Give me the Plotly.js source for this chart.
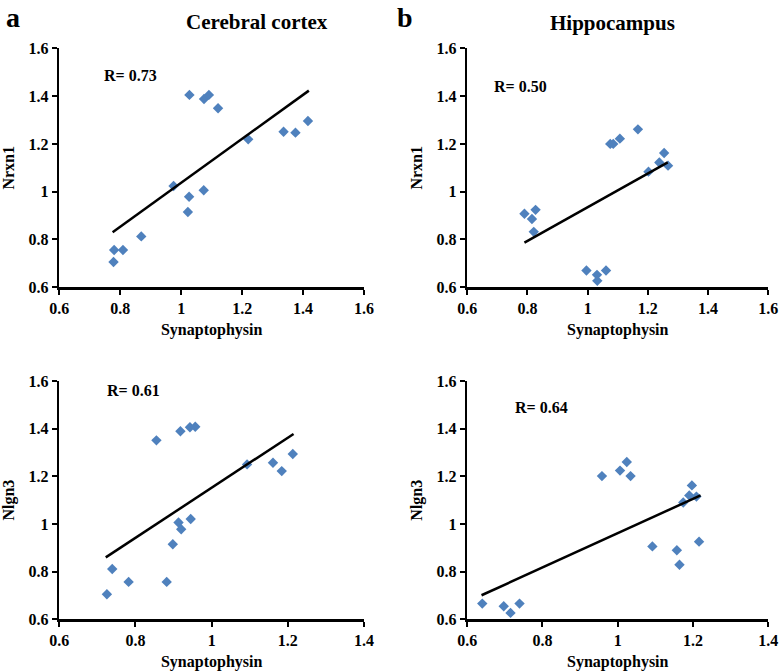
<!DOCTYPE html>
<html>
<head>
<meta charset="utf-8">
<script src="https://cdn.plot.ly/plotly-3.0.1.min.js"></script>
<style>html,body{margin:0;padding:0;background:#fff;}#chart{width:780px;height:672px;}</style>
</head>
<body>
<div id="chart"></div>
<script>
// Panel a: Cerebral cortex, Nrxn1 vs Synaptophysin
const cortexSynA = [1.027, 1.075, 1.091, 1.121, 1.220, 1.336, 1.375, 1.416, 0.975, 1.026, 1.074, 1.022, 0.869, 0.780, 0.809, 0.778];
const cortexNrxn1 = [1.405, 1.388, 1.405, 1.349, 1.219, 1.251, 1.247, 1.296, 1.024, 0.979, 1.006, 0.915, 0.813, 0.756, 0.756, 0.706];
const fitAx = [0.775, 1.419];
const fitAy = [0.830, 1.423];

// Panel b: Hippocampus, Nrxn1 vs Synaptophysin
const hippoSynB = [0.790, 0.815, 0.827, 0.821, 0.996, 1.031, 1.032, 1.061, 1.075, 1.085, 1.107, 1.167, 1.202, 1.238, 1.254, 1.267];
const hippoNrxn1 = [0.908, 0.886, 0.924, 0.832, 0.670, 0.652, 0.627, 0.670, 1.200, 1.200, 1.222, 1.261, 1.084, 1.122, 1.162, 1.109];
const fitBx = [0.790, 1.266];
const fitBy = [0.787, 1.123];

// Panel c: Cerebral cortex, Nlgn3 vs Synaptophysin
const cortexSynC = [0.855, 0.918, 0.943, 0.957, 1.093, 1.161, 1.184, 1.213, 0.913, 0.920, 0.945, 0.898, 0.739, 0.782, 0.882, 0.725];
const cortexNlgn3 = [1.351, 1.389, 1.406, 1.408, 1.250, 1.257, 1.222, 1.294, 1.006, 0.978, 1.021, 0.915, 0.811, 0.757, 0.757, 0.705];
const fitCx = [0.722, 1.215];
const fitCy = [0.860, 1.378];

// Panel d: Hippocampus, Nlgn3 vs Synaptophysin
const hippoSynD = [0.640, 0.697, 0.715, 0.739, 0.958, 1.006, 1.024, 1.034, 1.092, 1.157, 1.164, 1.216, 1.174, 1.190, 1.197, 1.209];
const hippoNlgn3 = [0.666, 0.655, 0.627, 0.666, 1.201, 1.224, 1.260, 1.201, 0.906, 0.890, 0.829, 0.926, 1.090, 1.120, 1.162, 1.115];
const fitDx = [0.638, 1.220];
const fitDy = [0.701, 1.120];

const rLabels = ["R= 0.73", "R= 0.50", "R= 0.61", "R= 0.64"];
const panelLetters = ["a", "b"];
const columnTitles = ["Cerebral cortex", "Hippocampus"];
const xLabel = "Synaptophysin";
const yLabels = ["Nrxn1", "Nlgn3"];
const yTicks = [0.6, 0.8, 1, 1.2, 1.4, 1.6];
const xTicksTop = [0.6, 0.8, 1, 1.2, 1.4, 1.6];
const xTicksBottom = [0.6, 0.8, 1, 1.2, 1.4];

const SERIF = "Liberation Serif";
const blue = "#4F81BD";

function pts(x, y, xa, ya) {
  return {x: x, y: y, xaxis: xa, yaxis: ya, type: "scatter", mode: "markers",
    marker: {symbol: "diamond", size: 8, color: blue}, hoverinfo: "x+y", showlegend: false};
}
function fit(x, y, xa, ya) {
  return {x: x, y: y, xaxis: xa, yaxis: ya, type: "scatter", mode: "lines",
    line: {color: "#000", width: 2.5}, hoverinfo: "skip", showlegend: false};
}

const data = [
  pts(cortexSynA, cortexNrxn1, "x", "y"), fit(fitAx, fitAy, "x", "y"),
  pts(hippoSynB, hippoNrxn1, "x2", "y2"), fit(fitBx, fitBy, "x2", "y2"),
  pts(cortexSynC, cortexNlgn3, "x3", "y3"), fit(fitCx, fitCy, "x3", "y3"),
  pts(hippoSynD, hippoNlgn3, "x4", "y4"), fit(fitDx, fitDy, "x4", "y4")
];

const tickFont = {family: SERIF, size: 16, color: "#000", weight: 700};
const titleFont = {family: SERIF, size: 16, color: "#000", weight: 700};
const bold = s => "<b>" + s + "</b>";

function xax(domain, range, ticks, anchor) {
  return {domain: domain, range: range, anchor: anchor, tickvals: ticks, ticktext: ticks.map(v => bold(String(v))),
    showgrid: false, zeroline: false, showline: true, linecolor: "#000", linewidth: 2.5,
    ticks: "outside", ticklen: 5, tickwidth: 2, tickcolor: "#000", tickfont: tickFont,
    title: {text: bold(xLabel), font: titleFont, standoff: 8}};
}
function yax(domain, ylabel, anchor) {
  return {domain: domain, range: [0.6, 1.6], anchor: anchor, tickvals: yTicks, ticktext: yTicks.map(v => bold(String(v))),
    showgrid: false, zeroline: false, showline: true, linecolor: "#000", linewidth: 2.5,
    ticks: "outside", ticklen: 5, tickwidth: 2, tickcolor: "#000", tickfont: tickFont,
    title: {text: bold(ylabel), font: titleFont, standoff: 10}};
}

const leftX = [0.076, 0.4667];
const rightX = [0.599, 0.985];
const topY = [0.5725, 0.9281];
const botY = [0.0784, 0.433];

function note(text, x, y, size, anchor) {
  return {text: bold(text), xref: "paper", yref: "paper", x: x / 780, y: 1 - y / 672,
    xanchor: anchor, yanchor: "middle", showarrow: false,
    font: {family: SERIF, size: size, color: "#000", weight: 700}};
}

const layout = {
  width: 780, height: 672,
  margin: {l: 0, r: 0, t: 0, b: 0},
  paper_bgcolor: "#fff", plot_bgcolor: "rgba(0,0,0,0)",
  showlegend: false,
  xaxis: xax(leftX, [0.6, 1.6], xTicksTop, "y"),
  yaxis: yax(topY, yLabels[0], "x"),
  xaxis2: xax(rightX, [0.6, 1.6], xTicksTop, "y2"),
  yaxis2: yax(topY, yLabels[0], "x2"),
  xaxis3: xax(leftX, [0.6, 1.4], xTicksBottom, "y3"),
  yaxis3: yax(botY, yLabels[1], "x3"),
  xaxis4: xax(rightX, [0.6, 1.4], xTicksBottom, "y4"),
  yaxis4: yax(botY, yLabels[1], "x4"),
  annotations: [
    Object.assign(note(panelLetters[0], 13, 0, 28, "center"), {yanchor: "top", y: 1}),
    Object.assign(note(panelLetters[1], 405, 0, 28, "center"), {yanchor: "top", y: 1}),
    note(columnTitles[0], 257, 22, 21, "center"),
    note(columnTitles[1], 612, 23, 21, "center"),
    note(rLabels[0], 102, 75, 16, "left"),
    note(rLabels[1], 492, 87, 16, "left"),
    note(rLabels[2], 105, 390, 16, "left"),
    note(rLabels[3], 513, 408, 16, "left")
  ]
};

Plotly.newPlot("chart", data, layout, {displayModeBar: false, staticPlot: true});
</script>
</body>
</html>
